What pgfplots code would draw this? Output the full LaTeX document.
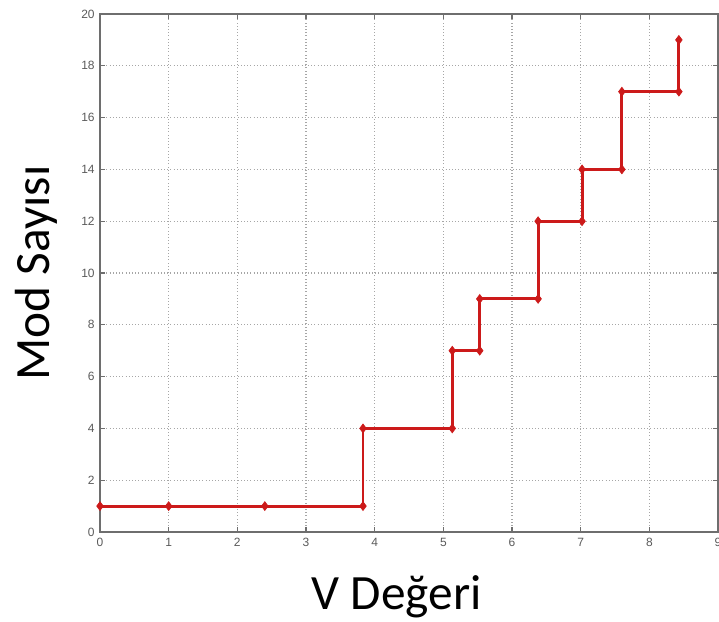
\documentclass[border=0pt]{standalone}
\usepackage{pgfplots}
\pgfplotsset{compat=1.18}
\usepackage{fontspec}
\setmainfont{Carlito}
\newfontfamily\tickfont{Liberation Sans}
\definecolor{linered}{HTML}{CC1A1A}
\definecolor{axgray}{HTML}{6E6E6E}
\definecolor{tickgray}{HTML}{5A5A5A}
\begin{document}
\begin{tikzpicture}[x=0.75pt,y=0.75pt]
\begin{axis}[
  scale only axis,
  width=463.5pt, height=388.5pt,
  xmin=0, xmax=9, ymin=0, ymax=20,
  xtick={0,1,...,9}, ytick={0,2,...,20},
  grid=major,
  major grid style={gray!70, dotted, line width=0.8pt},
  axis line style={axgray, line width=1.1pt},
  tick align=inside,
  major tick length=3.5pt,
  tick style={axgray, line width=0.8pt},
  /pgf/number format/assume math mode=true,
  ticklabel style={font=\tickfont\fontsize{9}{10}\selectfont, text=tickgray},
  xticklabel style={yshift=-1pt},
  yticklabel style={xshift=-0.5pt},
  xlabel={V Değeri},
  ylabel={Mod Sayısı},
  label style={font=\fontsize{37}{40}\selectfont},
  xlabel style={at={(rel axis cs:0.48,0)}, anchor=base, yshift=-58pt},
  ylabel style={at={(rel axis cs:0,0.5)}, anchor=center, xshift=0pt, yshift=48pt},
]
\addplot[linered, line width=2.2pt, mark=diamond*, mark size=3.3pt, mark options={fill=linered, draw=linered, line width=0.5pt}]
coordinates {
 (0,1) (1,1) (2.40,1) (3.83,1) (3.83,4) (5.13,4) (5.13,7) (5.53,7) (5.53,9) (6.38,9) (6.38,12) (7.02,12) (7.02,14) (7.60,14) (7.60,17) (8.43,17) (8.43,19)
};
\coordinate (bl) at (rel axis cs:0,0);
\coordinate (tr) at (rel axis cs:1,1);
\end{axis}
\pgfresetboundingbox
\path ([xshift=-75pt,yshift=-66.75pt]bl) rectangle ([xshift=0.75pt,yshift=10.5pt]tr);
\end{tikzpicture}
\end{document}
